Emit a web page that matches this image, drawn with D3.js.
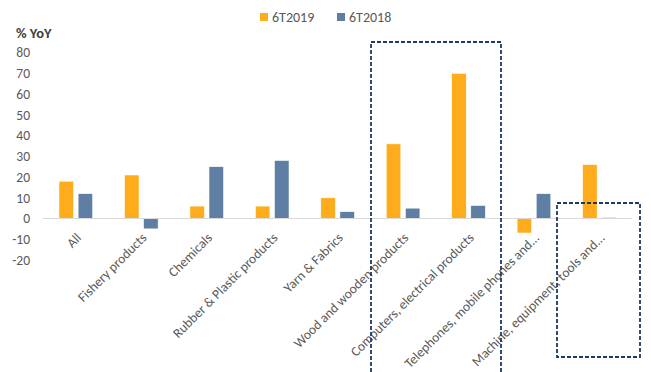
<!DOCTYPE html>
<html>
<head>
<meta charset="utf-8">
<script src="https://cdn.jsdelivr.net/npm/d3@7"></script>
<style>
  body { margin: 0; background: #fff; }
  svg text { font-family: Carlito, Lato, "Liberation Sans", sans-serif; fill: #595959; }
</style>
</head>
<body>
<svg id="chart" width="651" height="372"></svg>
<script>
(function() {
  var categories = ["All", "Fishery products", "Chemicals", "Rubber & Plastic products",
    "Yarn & Fabrics", "Wood and wooden products", "Computers, electrical products",
    "Telephones, mobile phones and...", "Machine, equipment, tools and..."];
  var series = ["6T2019", "6T2018"];
  var values2019 = [18, 21, 6, 6, 10, 36, 70, -7, 26];
  var values2018 = [12, -5, 25, 28, 3.3, 5, 6.3, 12, 0.5];
  var yTicks = [80, 70, 60, 50, 40, 30, 20, 10, 0, -10, -20];
  var colors = ["#FEAC1C", "#5F7EA3"];

  var svg = d3.select("svg#chart");

  var x = d3.scaleBand().domain(categories).range([43, 632]);
  var inner = d3.scaleBand().domain(series).range([16, 49.7]).paddingInner(0.236);
  var y = d3.scaleLinear().domain([-20, 80]).range([260, 52.6]);

  // y tick labels
  svg.selectAll("text.ytick").data(yTicks).enter().append("text")
    .attr("class", "ytick")
    .attr("x", 30).attr("y", function(d) { return y(d); })
    .attr("dy", "0.35em")
    .attr("text-anchor", "end")
    .style("font-size", "13.5px")
    .text(function(d) { return d; });

  svg.append("text")
    .attr("x", 16).attr("y", 38)
    .style("font-size", "14.5px").style("font-weight", "bold").style("fill", "#404040")
    .text("% YoY");

  // bars
  var rows = categories.map(function(c, i) {
    return { cat: c, vals: [values2019[i], values2018[i]] };
  });
  var groups = svg.selectAll("g.cat").data(rows).enter().append("g")
    .attr("class", "cat")
    .attr("transform", function(d) { return "translate(" + x(d.cat) + ",0)"; });
  groups.selectAll("rect").data(function(d) {
    return d.vals.map(function(v, j) { return { s: series[j], v: v, j: j }; });
  }).enter().append("rect")
    .attr("x", function(d) { return inner(d.s); })
    .attr("width", inner.bandwidth())
    .attr("y", function(d) { return y(Math.max(0, d.v)); })
    .attr("height", function(d) { return Math.abs(y(d.v) - y(0)); })
    .attr("fill", function(d) { return colors[d.j]; })
    .attr("stroke", "#fff").attr("stroke-width", 0.6);

  // zero line
  svg.append("line")
    .attr("x1", 43).attr("x2", 632)
    .attr("y1", y(0)).attr("y2", y(0))
    .attr("stroke", "#d9d9d9").attr("stroke-width", 1);

  // category labels
  svg.selectAll("text.xlab").data(categories).enter().append("text")
    .attr("class", "xlab")
    .attr("transform", function(d) {
      return "translate(" + (x(d) + x.bandwidth() / 2 + 3) + "," + (y(-10) - 4) + ") rotate(-45)";
    })
    .attr("text-anchor", "end")
    .attr("dy", "0.35em")
    .style("font-size", "13.5px")
    .text(function(d) { return d; });

  // highlight boxes
  var boxes = [[371, 42, 501, 380], [557, 203, 640, 357]];
  svg.selectAll("rect.box").data(boxes).enter().append("rect")
    .attr("class", "box")
    .attr("x", function(b) { return b[0]; })
    .attr("y", function(b) { return b[1]; })
    .attr("width", function(b) { return b[2] - b[0]; })
    .attr("height", function(b) { return b[3] - b[1]; })
    .attr("fill", "none")
    .attr("stroke", "#1F3A60").attr("stroke-width", 1.8)
    .attr("stroke-dasharray", "4,2");

  // legend
  var legend = svg.selectAll("g.legend").data(series).enter().append("g")
    .attr("class", "legend")
    .attr("transform", function(d, i) { return "translate(" + (260 + i * 77) + ",12)"; });
  legend.append("rect").attr("width", 8).attr("height", 8)
    .attr("y", 1)
    .attr("fill", function(d, i) { return colors[i]; });
  legend.append("text").attr("x", 12).attr("y", 5).attr("dy", "0.35em")
    .style("font-size", "14px")
    .text(function(d) { return d; });
}).call(this);
</script>
</body>
</html>
